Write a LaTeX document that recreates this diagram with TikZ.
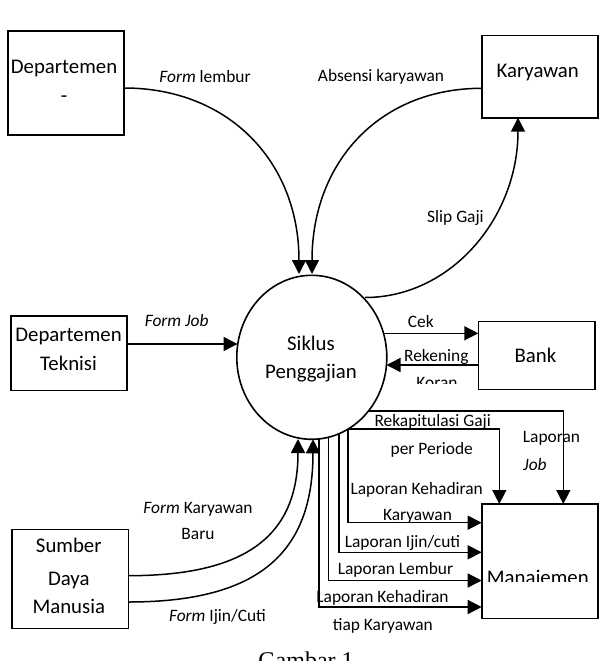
\documentclass[tikz,border=0pt]{standalone}
\usepackage{fontspec}
\setmainfont{Carlito}
\newfontfamily\capfont{Liberation Serif}
\usetikzlibrary{arrows.meta,shapes.geometric}
\begin{document}
\begin{tikzpicture}[x=1pt,y=-1pt,
  entity/.style={draw,line width=1.6pt,inner sep=0,rectangle},
  flow/.style={line width=1.5pt,-{Triangle[length=14pt,width=14pt]}},
  btxt/.style={font=\fontsize{20.8}{28}\selectfont,anchor=base,inner sep=0},
  ltxt/.style={font=\fontsize{17.4}{26}\selectfont,anchor=base,inner sep=0},
  ltxtl/.style={ltxt,anchor=base west},
]
\useasboundingbox (0,0) rectangle (601,661);
\clip (0,0) rectangle (601,661);

% ---- entities ----
\node[entity,minimum width=116pt,minimum height=104pt] (dep) at (66,83) {};
\node[entity,minimum width=116pt,minimum height=82pt] (kar) at (539.7,76.7) {};
\node[entity,minimum width=116pt,minimum height=74.7pt] (tek) at (68.7,353.3) {};
\node[entity,minimum width=116.4pt,minimum height=68pt] (bank) at (536.5,355.3) {};
\node[entity,minimum width=116.3pt,minimum height=99pt] (sdm) at (70.2,578.8) {};
\node[entity,minimum width=116pt,minimum height=114.3pt] (man) at (539.7,561.2) {};
\node[draw,line width=1.6pt,ellipse,inner sep=0,minimum width=150pt,minimum height=164pt] (proc) at (311.8,357.3) {};

% ---- entity texts ----
\node[btxt] (depA) at (64,74) {Departemen};
\node[btxt] (depB) at (64,102) {-};
\node[btxt] (karT) at (537.7,77.3) {Karyawan};
\node[btxt] (tekA) at (68.5,341.7) {Departemen};
\node[btxt] (tekB) at (68.5,370) {Teknisi};
\node[btxt] (bankT) at (535.5,362.3) {Bank};
\node[btxt] (sdmA) at (68.8,552.7) {Sumber};
\node[btxt] (sdmB) at (68.8,585) {Daya};
\node[btxt] (sdmC) at (68.8,613.3) {Manusia};
\node[btxt] (procA) at (311,350) {Siklus};
\node[btxt] (procB) at (311,378.3) {Penggajian};
\begin{scope}
  \clip (485,560) rectangle (595,581.7);
  \node[btxt] (manT) at (537.8,584) {Manajemen};
\end{scope}

% ---- connector end points ----
\coordinate (lemS) at (124,88);
\coordinate (lemE) at (299,274);
\coordinate (absS) at (481.7,88.3);
\coordinate (absE) at (312,274);
\coordinate (slipS) at (365,297.5);
\coordinate (slipE) at (518,117.7);
\coordinate (jobS) at (126.7,344);
\coordinate (jobE) at (237.5,344);
\coordinate (cekS) at (384,333.3);
\coordinate (cekE) at (478.3,333.3);
\coordinate (rekS) at (478.3,365);
\coordinate (rekE) at (386.5,365);
\coordinate (ljS) at (368.5,411);
\coordinate (ljE) at (563.3,504);
\coordinate (rgS) at (348,429);
\coordinate (rgE) at (499.3,504);
\coordinate (khE) at (481.7,522.7);
\coordinate (icS) at (339,433.7);
\coordinate (icE) at (481.7,552.3);
\coordinate (lbS) at (328.3,437.3);
\coordinate (lbE) at (481.7,580.5);
\coordinate (ktS) at (319.2,438.8);
\coordinate (ktE) at (481.7,607);
\coordinate (fkbS) at (128.3,575.7);
\coordinate (fkbE) at (298,439);
\coordinate (ficS) at (128.3,602);
\coordinate (ficE) at (313,439.3);

% ---- connectors ----
\draw[flow] (lemS) .. controls +(105,0) and +(0,-112) .. (lemE);
\draw[flow] (absS) .. controls +(-102,0) and +(0,-112) .. (absE);
\draw[flow] (slipS) .. controls +(86,0) and +(0,100) .. (slipE);
\draw[flow] (jobS) -- (jobE);
\draw[flow] (cekS) -- (cekE);
\draw[flow] (rekS) -- (rekE);
\draw[flow] (ljS) -| (ljE);
\draw[flow] (rgS) -| (rgE);
\draw[flow] (rgS) |- (khE);
\draw[flow] (icS) |- (icE);
\draw[flow] (lbS) |- (lbE);
\draw[flow] (ktS) |- (ktE);
\draw[flow] (fkbS) .. controls +(119,0) and +(0,96) .. (fkbE);
\draw[flow] (ficS) .. controls +(130,0) and +(0,114) .. (ficE);

% ---- flow labels ----
\node[ltxt] (tLem) at (205,82) {\textit{Form} lembur};
\node[ltxt] (tAbs) at (381,81.7) {Absensi karyawan};
\node[ltxt] (tSlip) at (455.5,222.7) {Slip Gaji};
\node[ltxt] (tJob) at (176.7,326.7) {\textit{Form Job}};
\node[ltxt] (tCek) at (420.8,327.3) {Cek};
\node[ltxt] (tRek) at (436.3,361.7) {Rekening};
\begin{scope}
  \clip (400,370) rectangle (476,383.3);
  \node[ltxt] (tKor) at (437,388.5) {Koran};
\end{scope}
\node[ltxt] (tRgA) at (432.7,426) {Rekapitulasi Gaji};
\node[ltxt] (tRgB) at (431.7,454) {per Periode};
\node[ltxtl] (tLjA) at (522.7,442.7) {Laporan};
\node[ltxtl] (tLjB) at (523,470) {\textit{Job}};
\node[ltxt] (tKhA) at (416.7,494) {Laporan Kehadiran};
\node[ltxt] (tKhB) at (417.5,520.7) {Karyawan};
\node[ltxt] (tIc) at (402.5,547.3) {Laporan Ijin/cuti};
\node[ltxt] (tLb) at (395.5,574) {Laporan Lembur};
\node[ltxt] (tKtA) at (382.5,602.7) {Laporan Kehadiran};
\node[ltxt] (tKtB) at (382.8,630) {tiap Karyawan};
\node[ltxt] (tFkbA) at (198,513.3) {\textit{Form} Karyawan};
\node[ltxt] (tFkbB) at (198,539.3) {Baru};
\node[ltxt] (tFic) at (217.5,621.7) {\textit{Form} Ijin/Cuti};

% ---- caption ----
\node[font=\capfont\fontsize{24}{28}\selectfont,anchor=base,inner sep=0] (cap) at (306,668) {Gambar 1};
\end{tikzpicture}
\end{document}
